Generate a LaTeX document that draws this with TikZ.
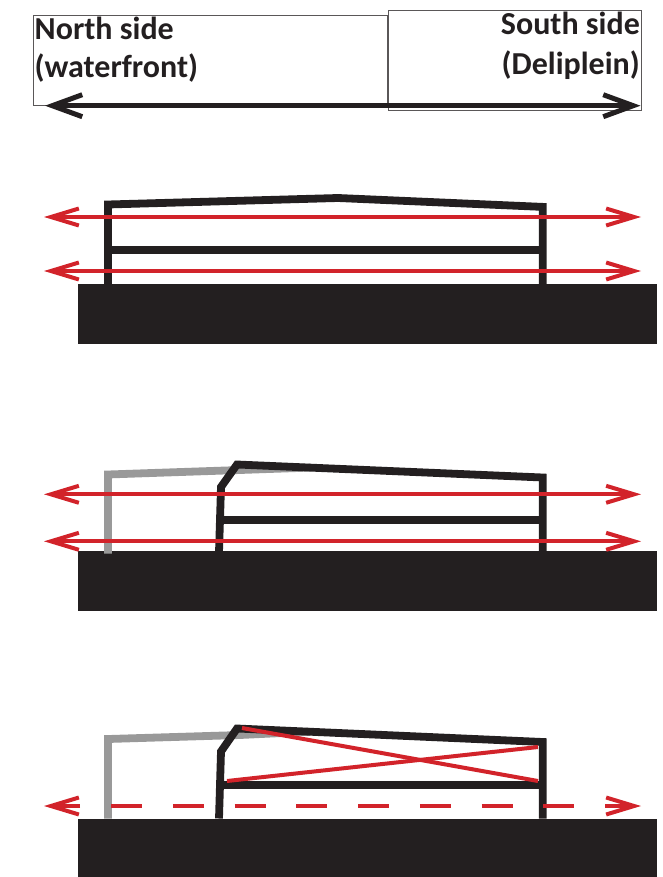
\documentclass[tikz,border=0pt]{standalone}
\usepackage{fontspec}
\setmainfont{Carlito}
\usetikzlibrary{arrows.meta}
\definecolor{ink}{HTML}{231F20}
\definecolor{redline}{HTML}{D2232A}
\definecolor{oldframe}{HTML}{999999}
\tikzset{
  x=1pt,y=-1pt,
  labelbox/.style={draw=ink!75,line width=0.8pt},
  labeltext/.style={font=\bfseries\fontsize{32}{39}\selectfont,text=ink,inner sep=0pt,align=left},
  ground/.style={fill=ink,draw=none},
  frame/.style={draw=ink,line width=7.8pt,miter limit=10},
  old/.style={draw=oldframe,line width=7.8pt,miter limit=10},
  mainarrow/.style={draw=ink,line width=5pt,{Straight Barb[length=30pt,width=22pt,line width=5pt]}-{Straight Barb[length=30pt,width=22pt,line width=5pt]}},
  redarrow/.style={draw=redline,line width=4pt,{Straight Barb[length=28pt,width=17pt,line width=4pt]}-{Straight Barb[length=28pt,width=17pt,line width=4pt]}},
  redplain/.style={draw=redline,line width=4pt},
  redtip/.style={draw=redline,line width=4pt,-{Straight Barb[length=28pt,width=17pt,line width=4pt]}},
}
\begin{document}
\begin{tikzpicture}
\useasboundingbox (0,0) rectangle (662,877);
% header
\draw[labelbox] (33,15.7) rectangle (387,105.7);
\draw[labelbox] (388.5,10.3) rectangle (641,110.8);
\node[labeltext,anchor=base west] (north) at (34.5,40) {North side};
\node[labeltext,anchor=base west] (water) at (34.5,77.7) {(waterfront)};
\node[labeltext,anchor=base east] (south) at (640,34.3) {South side};
\node[labeltext,anchor=base east] (deli) at (640,74.5) {(Deliplein)};
\coordinate (hl) at (45,105.7); \coordinate (hr) at (640.5,105.7);
\draw[mainarrow] (hl) -- (hr);
% panel 1
\fill[ground] (78,284) rectangle (657,344);
\draw[frame] (108,284) -- (108,204.5) -- (338,198) -- (542.7,206.9) -- (542.7,284);
\draw[frame] (108,250.3) -- (542.7,250.3);
\coordinate (a1l) at (44,217); \coordinate (a1r) at (641,217);
\coordinate (a2l) at (44,271); \coordinate (a2r) at (641,271);
\draw[redarrow] (a1l) -- (a1r);
\draw[redarrow] (a2l) -- (a2r);
% panel 2
\fill[ground] (78,550.5) rectangle (657,611);
\draw[old] (108,553.5) -- (108,474.5) -- (240,470) -- (310,467.6);
\draw[frame] (219,552) -- (221,487) -- (237,464.5) -- (542.7,477.5) -- (542.7,553);
\draw[frame] (221,520) -- (542.7,520);
\coordinate (b1l) at (44,494.3); \coordinate (b1r) at (641,494.3);
\coordinate (b2l) at (44,541.3); \coordinate (b2r) at (641,541.3);
\draw[redarrow] (b1l) -- (b1r);
\draw[redarrow] (b2l) -- (b2r);
% panel 3
\fill[ground] (78,818.5) rectangle (657,877);
\draw[old] (108,818.5) -- (108,739) -- (240,735) -- (310,731.7);
\draw[frame] (219,818.5) -- (221,751.5) -- (237,728.5) -- (542.7,742) -- (542.7,818.5);
\draw[frame] (221,785) -- (542.7,785);
\coordinate (x1a) at (242,728); \coordinate (x1b) at (538,781);
\coordinate (x2a) at (227,781); \coordinate (x2b) at (538,747);
\draw[redplain] (x1a) -- (x1b);
\draw[redplain] (x2a) -- (x2b);
\coordinate (c0) at (80,806); \coordinate (cl) at (44,806);
\coordinate (c1) at (111,806); \coordinate (c2) at (574,806);
\coordinate (c3) at (605,806); \coordinate (cr) at (641,806);
\draw[redtip] (c0) -- (cl);
\draw[redplain,dash pattern=on 31pt off 30.75pt] (c1) -- (c2);
\draw[redtip] (c3) -- (cr);
\end{tikzpicture}
\end{document}
